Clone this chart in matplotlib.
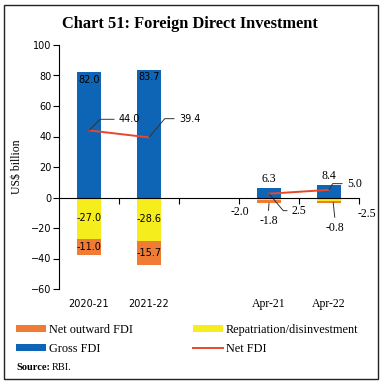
import numpy as np
import matplotlib
matplotlib.use("Agg")
import matplotlib.pyplot as plt
import matplotlib.transforms as mtransforms
from matplotlib.patches import Patch, Rectangle
from matplotlib.lines import Line2D

# data (US$ billion)
categories = ['2020-21', '2021-22', '', 'Apr-21', 'Apr-22']
gross_fdi = [82.0, 83.7, 0.0, 6.3, 8.4]
repatriation = [-27.0, -28.6, 0.0, -1.8, -2.5]
net_outward = [-11.0, -15.7, 0.0, -2.0, -0.8]
net_fdi = [44.0, 39.4, np.nan, 2.5, 5.0]

c_blue = '#0f65b5'
c_yellow = '#f6ee1c'
c_orange = '#ef7b35'
c_red = '#e8472d'

serif = 'Liberation Serif'
sans = 'DejaVu Sans'

fig = plt.figure(figsize=(3.83, 3.85), dpi=100)
ax = fig.add_axes([59/383, 96/385, 300/383, 244/385])

x = np.arange(len(categories))
w = 0.4
ax.bar(x, gross_fdi, w, color=c_blue, zorder=2)
ax.bar(x, repatriation, w, color=c_yellow, zorder=2)
ax.bar(x, net_outward, w, bottom=repatriation, color=c_orange, zorder=2)
ax.plot(x, net_fdi, color=c_red, lw=1.4, zorder=3)

ax.set_xlim(-0.5, 4.5)
ax.set_ylim(-60, 100)
ax.set_yticks(np.arange(-60, 101, 20))
ax.set_xticks([0.5, 1.5, 2.5, 3.5, 4.5])
ax.set_xticklabels([])
for s in ['top', 'right']:
    ax.spines[s].set_visible(False)
ax.spines['bottom'].set_position(('data', 0))
ax.spines['bottom'].set_zorder(4)
ax.tick_params(axis='y', direction='out', length=4, width=0.8, pad=1.5, labelsize=7)
ax.tick_params(axis='x', direction='out', length=4, width=0.8)
for lab in ax.get_yticklabels():
    lab.set_fontfamily(sans)
ax.set_ylabel('US$ billion', family=serif, fontsize=8.5)
ax.yaxis.set_label_coords(-0.12, 0.5)

# category labels below plot
trans = mtransforms.blended_transform_factory(ax.transData, ax.transAxes)
for i, c in enumerate(categories):
    fam = sans if i < 2 else serif
    fs = 7 if i < 2 else 8.5
    ax.text(i, -0.061, c, transform=trans, ha='center', va='center', family=fam, fontsize=fs)

# value labels for annual bars
for i in [0, 1]:
    ax.annotate(f'{gross_fdi[i]:.1f}', (i, gross_fdi[i]), xytext=(0, -1.5), textcoords='offset points',
                ha='center', va='top', fontsize=7, family=sans)
    ax.text(i, repatriation[i] / 2, f'{repatriation[i]:.1f}', ha='center', va='center', fontsize=7, family=sans)
    ax.text(i, repatriation[i] + net_outward[i] / 2, f'{net_outward[i]:.1f}', ha='center', va='center',
            fontsize=7, family=sans)

# leader labels for net FDI
lead = dict(arrowstyle='-', color='#333333', lw=0.7, shrinkA=1.5, shrinkB=0)
ax.annotate(f'{net_fdi[0]:.1f}', (0, net_fdi[0]), xytext=(21.6, 8), textcoords='offset points',
            ha='left', va='center', fontsize=7, family=sans,
            arrowprops=dict(lead, connectionstyle='angle,angleA=0,angleB=45,rad=0', relpos=(0, 0.5)))
ax.annotate(f'{net_fdi[1]:.1f}', (1, net_fdi[1]), xytext=(21.6, 13.5), textcoords='offset points',
            ha='left', va='center', fontsize=7, family=sans,
            arrowprops=dict(lead, connectionstyle='angle,angleA=0,angleB=50,rad=0', relpos=(0, 0.5)))

# monthly bars
for i in [3, 4]:
    ax.annotate(f'{gross_fdi[i]:.1f}', (i, gross_fdi[i]), xytext=(0, 2), textcoords='offset points',
                ha='center', va='bottom', fontsize=8.5, family=serif)

ax.annotate(f'{net_fdi[3]:.1f}', (3, net_fdi[3]), xytext=(16.5, -12.2), textcoords='offset points',
            ha='left', va='center', fontsize=8.5, family=serif,
            arrowprops=dict(lead, connectionstyle='angle,angleA=0,angleB=-50,rad=0', relpos=(0, 0.5)))
ax.annotate(f'{net_fdi[4]:.1f}', (4, net_fdi[4]), xytext=(13, 4.5), textcoords='offset points',
            ha='left', va='center', fontsize=8.5, family=serif,
            arrowprops=dict(lead, connectionstyle='angle,angleA=0,angleB=60,rad=0', relpos=(0, 0.5)))

bot3 = repatriation[3] + net_outward[3]
bot4 = repatriation[4] + net_outward[4]
ax.annotate(f'{net_outward[3]:.1f}', (3, bot3), xytext=(-21, -6.5), textcoords='offset points',
            ha='center', va='center', fontsize=8.5, family=serif)
ax.annotate(f'{repatriation[3]:.1f}', (3, bot3), xytext=(0, -13), textcoords='offset points',
            ha='center', va='center', fontsize=8.5, family=serif,
            arrowprops=dict(lead, relpos=(0.45, 1)))
ax.annotate(f'{repatriation[4]:.1f}', (4, bot4), xytext=(27, -8), textcoords='offset points',
            ha='center', va='center', fontsize=8.5, family=serif)
ax.annotate(f'{net_outward[4]:.1f}', (4.07, bot4), xytext=(1.5, -18.5), textcoords='offset points',
            ha='center', va='center', fontsize=8.5, family=serif,
            arrowprops=dict(lead, relpos=(0.5, 1)))

# title
fig.text(190/383, 1 - 24/385, 'Chart 51: Foreign Direct Investment', ha='center', va='center',
         family=serif, fontweight='bold', fontsize=11.8)

# legend
handles = [Patch(facecolor=c_orange), Patch(facecolor=c_blue),
           Patch(facecolor=c_yellow), Line2D([], [], color=c_red, lw=1.4)]
labels = ['Net outward FDI', 'Gross FDI', 'Repatriation/disinvestment', 'Net FDI']
fig.legend(handles, labels, loc='upper left', bbox_to_anchor=(16/383, 1 - 324/385), ncol=2,
           frameon=False, prop=dict(family=serif, size=8.8), handlelength=2.45, handleheight=0.5,
           handletextpad=0.25, columnspacing=4.9, labelspacing=0.55, borderpad=0, borderaxespad=0)

fig.text(16/383, 1 - 367/385, 'Source:', ha='left', va='center', family=serif, fontweight='bold', fontsize=7.5)
fig.text(52/383, 1 - 367/385, 'RBI.', ha='left', va='center', family=serif, fontsize=7.5)

# outer frame
fig.add_artist(Rectangle((4/383, 6/385), 374/383, 374/385, transform=fig.transFigure,
                         fill=False, edgecolor='#222222', lw=1.0))

fig.savefig('out.png', dpi=100)
